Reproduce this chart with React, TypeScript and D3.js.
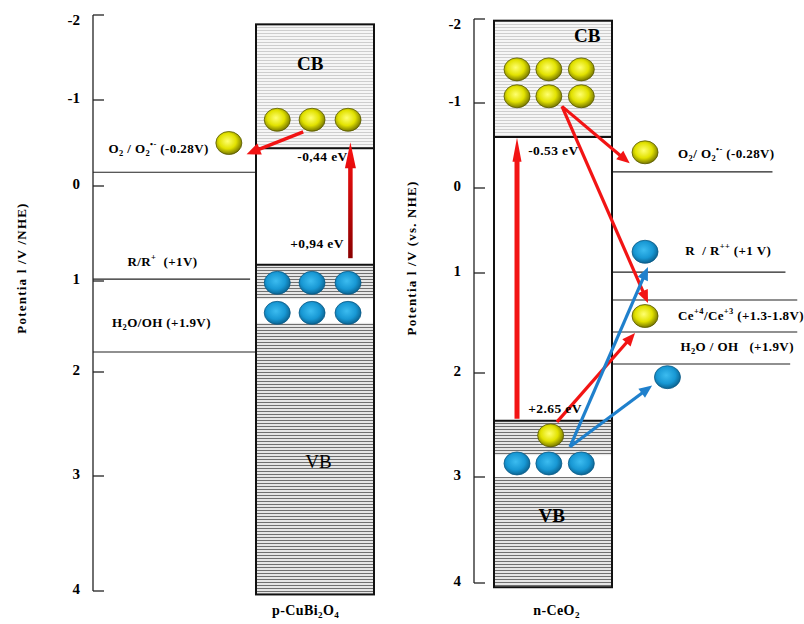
import React from "react";
import * as d3 from "d3";

// axis ticks (potential, V vs NHE)
const tickValues = [-2, -1, 0, 1, 2, 3, 4];
// the printed axes are hand drawn, so each panel gets its own tick spacing
const cuTickPx = [15, 100, 186, 281, 372, 476, 591];
const ceTickPx = [19, 103, 188, 273, 373, 477, 583];

// p-CuBi2O4 band
const cuBand = [-1.89, -0.44, 0.83, 4.03]; // top, CB edge, VB edge, bottom
const cuGap = [1.2, 1.46];
const cuCols = [0.18, 0.475, 0.78];
const cuElectronRows = [-0.77];
const cuHoleRows = [1.02, 1.35];
const cuLevels = [-0.16, 0.98, 1.78];

// n-CeO2 band
const ceBand = [-1.98, -0.6, 2.46, 4.04];
const ceGap = [2.79, 3.0];
const ceCols = [0.195, 0.465, 0.74];
const ceElectronRows = [-1.4, -1.08];
const ceHoleRows = [2.87];
const ceLevels = [-0.19, 0.99, 1.27, 1.59, 1.91];
const ceLevelEnds = [2.36, 2.47, 2.57, 2.57, 2.51];

// species drawn outside / inside the boxes: [x (box units), potential, kind]
const cuSpecies: [number, number, string][] = [[-0.23, -0.5, "e"]];
const ceSpecies: [number, number, string][] = [
  [1.28, -0.42, "e"],
  [1.28, 0.75, "h"],
  [1.28, 1.43, "e"],
  [1.47, 2.04, "h"],
  [0.48, 2.6, "e"],
];

// arrows: [x1, v1, x2, v2, colour]
const cuArrows: [number, number, number, number, string][] = [
  [0.4, -0.63, -0.08, -0.37, "red"],
];
const ceArrows: [number, number, number, number, string][] = [
  [0.576, -0.96, 1.15, -0.29, "red"],
  [0.576, -0.96, 1.305, 1.3, "red"],
  [0.534, 2.47, 1.195, 1.6, "red"],
  [0.644, 2.71, 1.305, 0.93, "blue"],
  [0.644, 2.71, 1.34, 2.12, "blue"],
];

const RED = "#f21414";
const BLUE = "#1f80cc";
const SERIF = "'Liberation Serif', 'Times New Roman', serif";
const NB = "\u00a0";

type Seg = { t: string; k?: "sub" | "sup" };

function Rich(props: { x: number; y: number; segs: Seg[]; size: number; anchor?: string; weight?: string; ls?: number }) {
  const { x, y, segs, size, anchor = "start", weight = "bold", ls = 0.4 } = props;
  let shift = 0;
  return (
    <text x={x} y={y} fontSize={size} fontFamily={SERIF} fontWeight={weight} textAnchor={anchor}
      dominantBaseline="middle" letterSpacing={ls}>
      {segs.map((s, i) => {
        const target = s.k === "sub" ? size * 0.3 : s.k === "sup" ? -size * 0.4 : 0;
        const dy = target - shift;
        shift = target;
        return (
          <tspan key={i} dy={dy} fontSize={s.k ? size * 0.65 : size}>
            {s.t}
          </tspan>
        );
      })}
    </text>
  );
}

function Arrow(props: { x1: number; y1: number; x2: number; y2: number; color: string; w?: number; hl?: number; hw?: number }) {
  const { x1, y1, x2, y2, color, w = 3, hl = 13, hw = 5 } = props;
  const a = Math.atan2(y2 - y1, x2 - x1);
  const bx = x2 - hl * Math.cos(a);
  const by = y2 - hl * Math.sin(a);
  const px = -Math.sin(a) * hw;
  const py = Math.cos(a) * hw;
  const head = d3.line()([[x2, y2], [bx + px, by + py], [bx - px, by - py]]) + "Z";
  return (
    <g>
      <line x1={x1} y1={y1} x2={bx + (x2 - bx) * 0.2} y2={by + (y2 - by) * 0.2} stroke={color} strokeWidth={w} />
      <path d={head} fill={color} />
    </g>
  );
}

function Particle({ x, y, kind }: { x: number; y: number; kind: string }) {
  return (
    <ellipse cx={x} cy={y} rx={13} ry={11.5}
      fill={kind === "e" ? "url(#gYellow)" : "url(#gBlue)"}
      stroke={kind === "e" ? "#5a5a00" : "#0b5a86"} strokeWidth={0.8} />
  );
}

function Axis({ y, x, labelX }: { y: d3.ScaleLinear<number, number>; x: number; labelX: number }) {
  return (
    <g>
      <line x1={x} x2={x} y1={y(-2)} y2={y(4)} stroke="#222" strokeWidth={1.3} />
      {tickValues.map((t) => (
        <g key={t}>
          <line x1={x} x2={x + 11} y1={y(t)} y2={y(t)} stroke="#222" strokeWidth={1.3} />
          <text x={labelX} y={y(t) + (t === -2 ? 7 : 0)} fontSize={15} fontFamily={SERIF} fontWeight="bold"
            textAnchor="end" dominantBaseline="middle">
            {t}
          </text>
        </g>
      ))}
    </g>
  );
}

function Band(props: { y: d3.ScaleLinear<number, number>; x: d3.ScaleLinear<number, number>; band: number[]; gap: number[] }) {
  const { y, x, band, gap } = props;
  const [top, cb, vb, bottom] = band;
  const x0 = x(0), w = x(1) - x(0);
  return (
    <g>
      <rect x={x0} y={y(top)} width={w} height={y(cb) - y(top)} fill="url(#hatchLight)" />
      <rect x={x0} y={y(cb)} width={w} height={y(vb) - y(cb)} fill="#fff" />
      <rect x={x0} y={y(vb)} width={w} height={y(bottom) - y(vb)} fill="url(#hatchDark)" />
      <rect x={x0} y={y(gap[0])} width={w} height={y(gap[1]) - y(gap[0])} fill="#fff" />
      <line x1={x0} x2={x0 + w} y1={y(cb)} y2={y(cb)} stroke="#111" strokeWidth={2} />
      <line x1={x0} x2={x0 + w} y1={y(vb)} y2={y(vb)} stroke="#111" strokeWidth={2} />
      <rect x={x0} y={y(top)} width={w} height={y(bottom) - y(top)} fill="none" stroke="#111" strokeWidth={2} />
    </g>
  );
}

export default function App() {
  const yCu = d3.scaleLinear().domain(tickValues).range(cuTickPx);
  const yCe = d3.scaleLinear().domain(tickValues).range(ceTickPx);
  const xCu = d3.scaleLinear().domain([0, 1]).range([256, 374]);
  const xCe = d3.scaleLinear().domain([0, 1]).range([494, 612]);

  const cuLabels: [number, number, Seg[]][] = [
    [-1.25, -0.42, [{ t: "O" }, { t: "2", k: "sub" }, { t: " / O" }, { t: "2", k: "sub" }, { t: "•-", k: "sup" }, { t: " (-0.28V)" }]],
    [-1.09, 0.81, [{ t: "R/R" }, { t: "+", k: "sup" }, { t: NB + NB + "(+1V)" }]],
    [-1.22, 1.47, [{ t: "H" }, { t: "2", k: "sub" }, { t: "O/OH (+1.9V)" }]],
  ];
  const ceLabels: [number, number, Seg[]][] = [
    [1.56, -0.39, [{ t: "O" }, { t: "2", k: "sub" }, { t: "/ O" }, { t: "2", k: "sub" }, { t: "•-", k: "sup" }, { t: " (-0.28V)" }]],
    [1.62, 0.75, [{ t: "R" + NB + NB + "/ R" }, { t: "++", k: "sup" }, { t: " (+1 V)" }]],
    [1.56, 1.44, [{ t: "Ce" }, { t: "+4", k: "sup" }, { t: "/Ce" }, { t: "+3", k: "sup" }, { t: " (+1.3-1.8V)" }]],
    [1.58, 1.75, [{ t: "H" }, { t: "2", k: "sub" }, { t: "O / OH" + NB + NB + NB + "(+1.9V)" }]],
  ];

  return (
    <svg width={804} height={624} style={{ position: "absolute", left: 0, top: 0, background: "#fff" }}>
      <defs>
        <pattern id="hatchLight" width={4} height={3} patternUnits="userSpaceOnUse">
          <rect width={4} height={3} fill="#f6f6f6" />
          <line x1={0} x2={4} y1={0.5} y2={0.5} stroke="#c4c4c4" strokeWidth={0.8} />
        </pattern>
        <pattern id="hatchDark" width={4} height={3} patternUnits="userSpaceOnUse">
          <rect width={4} height={3} fill="#e6e6e6" />
          <line x1={0} x2={4} y1={0.5} y2={0.5} stroke="#707070" strokeWidth={1} />
        </pattern>
        <radialGradient id="gYellow" cx="45%" cy="42%" r="60%">
          <stop offset="0" stopColor="#ffff70" />
          <stop offset="0.55" stopColor="#e2e200" />
          <stop offset="1" stopColor="#6f6f00" />
        </radialGradient>
        <radialGradient id="gBlue" cx="45%" cy="42%" r="60%">
          <stop offset="0" stopColor="#3cbcf0" />
          <stop offset="0.6" stopColor="#1898d4" />
          <stop offset="1" stopColor="#0a5f8c" />
        </radialGradient>
        <linearGradient id="gUp" gradientUnits="userSpaceOnUse" x1={0} y1={yCu(0.76)} x2={0} y2={yCu(-0.51)}>
          <stop offset="0" stopColor="#8a0000" />
          <stop offset="1" stopColor="#ff1010" />
        </linearGradient>
      </defs>

      {/* ---------- p-CuBi2O4 ---------- */}
      <Axis y={yCu} x={93} labelX={80} />
      {cuLevels.map((v, i) => (
        <line key={i} x1={93} x2={i === 1 ? xCu(-0.05) : xCu(0)} y1={yCu(v)} y2={yCu(v)} stroke="#222" strokeWidth={1.2} />
      ))}
      <Band y={yCu} x={xCu} band={cuBand} gap={cuGap} />
      {cuLabels.map(([x, v, segs], i) => (
        <Rich key={i} x={xCu(x)} y={yCu(v)} segs={segs} size={13} />
      ))}
      {cuElectronRows.map((v) => cuCols.map((c, j) => <Particle key={v + "-" + j} x={xCu(c)} y={yCu(v)} kind="e" />))}
      {cuHoleRows.map((v) => cuCols.map((c, j) => <Particle key={v + "-" + j} x={xCu(c)} y={yCu(v)} kind="h" />))}
      {cuSpecies.map(([x, v, k], i) => <Particle key={i} x={xCu(x)} y={yCu(v)} kind={k} />)}
      {cuArrows.map(([x1, v1, x2, v2, c], i) => (
        <Arrow key={i} x1={xCu(x1)} y1={yCu(v1)} x2={xCu(x2)} y2={yCu(v2)} color={c === "red" ? RED : BLUE} w={3.5} hl={14} hw={6} />
      ))}
      <Rich x={xCu(0.35)} y={yCu(-0.33)} size={13.5} segs={[{ t: "-0,44 eV" }]} />
      <Rich x={xCu(0.29)} y={yCu(0.62)} size={13.5} segs={[{ t: "+0,94 eV" }]} />
      <Arrow x1={xCu(0.8)} y1={yCu(0.76)} x2={xCu(0.8)} y2={yCu(-0.51)} color="url(#gUp)" w={4.5} hl={26} hw={5.5} />
      <text x={xCu(0.46)} y={yCu(-1.41)} fontSize={19} fontFamily={SERIF} fontWeight="bold" textAnchor="middle" dominantBaseline="middle">CB</text>
      <text x={xCu(0.53)} y={yCu(2.88)} fontSize={19} fontFamily={SERIF} textAnchor="middle" dominantBaseline="middle">VB</text>
      <Rich x={xCu(0.42)} y={612} size={14} anchor="middle"
        segs={[{ t: "p-CuBi" }, { t: "2", k: "sub" }, { t: "O" }, { t: "4", k: "sub" }]} />
      <text transform="translate(23,268) rotate(-90)" fontSize={13} fontFamily={SERIF} fontWeight="bold"
        textAnchor="middle" dominantBaseline="middle" letterSpacing={1.2}>Potentia l /V /NHE)</text>

      {/* ---------- n-CeO2 ---------- */}
      <Axis y={yCe} x={474} labelX={461} />
      {ceLevels.map((v, i) => (
        <line key={i} x1={xCe(1)} x2={xCe(ceLevelEnds[i])} y1={yCe(v)} y2={yCe(v)} stroke="#222" strokeWidth={1.2} />
      ))}
      <Band y={yCe} x={xCe} band={ceBand} gap={ceGap} />
      {ceLabels.map(([x, v, segs], i) => (
        <Rich key={i} x={xCe(x)} y={yCe(v)} segs={segs} size={13} />
      ))}
      {ceElectronRows.map((v) => ceCols.map((c, j) => <Particle key={v + "-" + j} x={xCe(c)} y={yCe(v)} kind="e" />))}
      {ceHoleRows.map((v) => ceCols.map((c, j) => <Particle key={v + "-" + j} x={xCe(c)} y={yCe(v)} kind="h" />))}
      {ceSpecies.map(([x, v, k], i) => <Particle key={i} x={xCe(x)} y={yCe(v)} kind={k} />)}
      <Arrow x1={xCe(0.195)} y1={yCe(2.44)} x2={xCe(0.195)} y2={yCe(-0.59)} color={RED} w={5} hl={24} hw={4.5} />
      {ceArrows.map(([x1, v1, x2, v2, c], i) => (
        <Arrow key={i} x1={xCe(x1)} y1={yCe(v1)} x2={xCe(x2)} y2={yCe(v2)} color={c === "red" ? RED : BLUE} w={3.2} hl={13} hw={5.5} />
      ))}
      <Rich x={xCe(0.29)} y={yCe(-0.42)} size={13.5} segs={[{ t: "-0.53 eV" }]} />
      <Rich x={xCe(0.29)} y={yCe(2.36)} size={13.5} segs={[{ t: "+2.65 eV" }]} />
      <text x={xCe(0.79)} y={yCe(-1.78)} fontSize={19} fontFamily={SERIF} fontWeight="bold" textAnchor="middle" dominantBaseline="middle">CB</text>
      <text x={xCe(0.49)} y={yCe(3.38)} fontSize={19} fontFamily={SERIF} fontWeight="bold" textAnchor="middle" dominantBaseline="middle">VB</text>
      <Rich x={xCe(0.53)} y={612} size={14} anchor="middle" segs={[{ t: "n-CeO" }, { t: "2", k: "sub" }]} />
      <text transform="translate(413,258) rotate(-90)" fontSize={13} fontFamily={SERIF} fontWeight="bold"
        textAnchor="middle" dominantBaseline="middle" letterSpacing={1.2}>Potentia l /V (vs. NHE)</text>
    </svg>
  );
}
